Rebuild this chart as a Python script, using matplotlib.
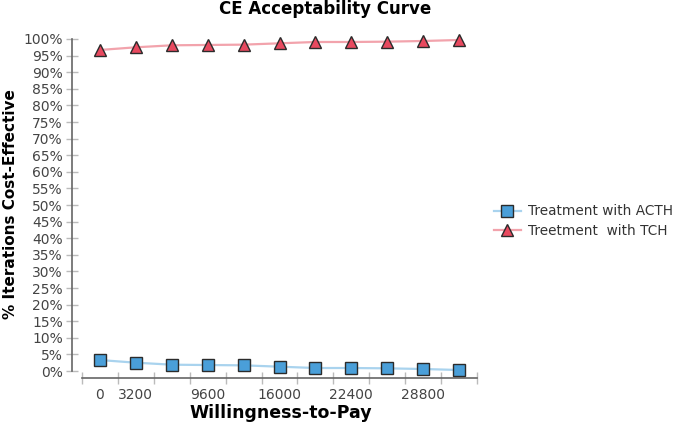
import matplotlib
matplotlib.use("Agg")
import matplotlib.pyplot as plt
import numpy as np

# willingness-to-pay categories
wtp = [0, 3200, 6400, 9600, 12800, 16000, 19200, 22400, 25600, 28800, 32000]
wtp_labels = ["0", "3200", "", "9600", "", "16000", "", "22400", "", "28800", ""]

# % iterations cost-effective
acth = [3.3, 2.5, 1.9, 1.8, 1.7, 1.3, 0.9, 0.9, 0.8, 0.6, 0.3]
tch = [96.7, 97.5, 98.1, 98.2, 98.3, 98.7, 99.1, 99.1, 99.2, 99.4, 99.7]

y_ticks = list(range(0, 101, 5))

fig = plt.figure(figsize=(6.85, 4.23), dpi=100)
ax = fig.add_axes([82 / 685, 52 / 423, 395 / 685, 332 / 423])

x = np.arange(len(wtp))
ax.plot(x, acth, color='#a9d3ee', lw=1.6, marker='s', ms=8.5,
        mfc='#4a9fd9', mec='#2b2b2b', mew=1.0, clip_on=False, zorder=3,
        label='Treatment with ACTH')
ax.plot(x, tch, color='#f2a3ac', lw=1.6, marker='^', ms=9,
        mfc='#e8495f', mec='#2b2b2b', mew=1.0, clip_on=False, zorder=3,
        label='Treetment  with TCH')

ax.set_xlim(-0.5, len(wtp) - 0.5)
ax.set_ylim(0, 100)

# axes detached like the original chart
for s in ['top', 'right']:
    ax.spines[s].set_visible(False)
ax.spines['left'].set_position(('outward', 7.2))
ax.spines['bottom'].set_position(('outward', 5))
ax.spines['left'].set_color('#666666')
ax.spines['bottom'].set_color('#666666')
ax.spines['left'].set_linewidth(1.2)
ax.spines['bottom'].set_linewidth(1.2)

ax.set_yticks(y_ticks)
ax.set_yticklabels([f"{v}%" for v in y_ticks])
ax.tick_params(axis='y', direction='inout', length=9, width=1, color='#bbbbbb',
               labelsize=10, labelcolor='#444444', pad=2)

# category boundaries as major ticks, labels on the centres
ax.set_xticks(np.arange(-0.5, len(wtp), 1.0))
ax.set_xticklabels([])
ax.set_xticks(x, minor=True)
ax.set_xticklabels(wtp_labels, minor=True)
ax.tick_params(axis='x', which='major', direction='inout', length=9, width=1,
               color='#bbbbbb')
ax.tick_params(axis='x', which='minor', length=0, labelsize=10,
               labelcolor='#444444', pad=7)

fig.text(325 / 685, 1 - 9 / 423, 'CE Acceptability Curve', ha='center', va='center',
         fontsize=12, fontweight='heavy')
fig.text(281 / 685, 1 - 413 / 423, 'Willingness-to-Pay', ha='center', va='center',
         fontsize=12.5, fontweight='heavy')
fig.text(11 / 685, 1 - 204 / 423, '% Iterations Cost-Effective', ha='center',
         va='center', rotation=90, fontsize=11, fontweight='heavy')

leg = fig.legend(loc='center left', bbox_to_anchor=(487 / 685, 1 - 221 / 423),
                 frameon=False, fontsize=9.8, handlelength=2.0, handletextpad=0.5,
                 labelspacing=0.4, borderpad=0)
for t in leg.get_texts():
    t.set_color('#333333')

fig.savefig('out.png', dpi=100)
